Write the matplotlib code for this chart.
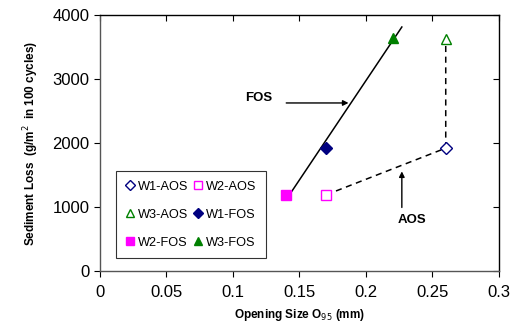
import numpy as np
import matplotlib
matplotlib.use('Agg')
import matplotlib.pyplot as plt

plt.rcParams['font.family'] = ['Liberation Sans', 'DejaVu Sans']

# data
aos_x = [0.26, 0.17, 0.26]          # W1, W2, W3
aos_y = [1920, 1190, 3630]
fos_x = [0.17, 0.14, 0.22]
fos_y = [1920, 1190, 3640]
labels = ['W1', 'W2', 'W3']
colors = ['#000080', '#FF00FF', '#008000']
markers = ['D', 's', '^']

fig = plt.figure(figsize=(5.23, 3.31), dpi=100)
ax = fig.add_axes([0.191, 0.181, 0.763, 0.774])

# FOS trend line
k, b = np.polyfit(fos_x, fos_y, 1)
xl = np.array([0.14, 0.227])
ax.plot(xl, k * xl + b, color='black', lw=1.1, zorder=2)

# AOS dashed connection: W2 -> W1 -> W3
ax.plot([aos_x[1], aos_x[0], aos_x[2]], [aos_y[1], aos_y[0], aos_y[2]],
        color='black', lw=1.1, ls=(0, (4, 3)), zorder=2)

handles = {}
for i in range(3):
    ms = 6 if markers[i] == 'D' else 7
    h = ax.plot(aos_x[i], aos_y[i], ls='none', marker=markers[i], ms=ms,
                mfc='white', mec=colors[i], mew=1.0, zorder=3)[0]
    handles[f'{labels[i]}-AOS'] = h
    h = ax.plot(fos_x[i], fos_y[i], ls='none', marker=markers[i], ms=ms,
                mfc=colors[i], mec=colors[i], mew=1.0, zorder=3)[0]
    handles[f'{labels[i]}-FOS'] = h

# legend: rows W1-AOS/W2-AOS, W3-AOS/W1-FOS, W2-FOS/W3-FOS
order = ['W1-AOS', 'W3-AOS', 'W2-FOS', 'W2-AOS', 'W1-FOS', 'W3-FOS']
leg = ax.legend([handles[o] for o in order], order, ncol=2, loc='lower left',
                bbox_to_anchor=(0.025, 0.025), fontsize=9.2, frameon=True,
                fancybox=False, edgecolor='black', handlelength=0.7,
                handletextpad=0.25, columnspacing=0.4, labelspacing=1.25,
                borderpad=0.75, markerscale=0.9)
leg.get_frame().set_linewidth(0.8)

# annotations
ax.annotate('', xy=(0.189, 2625), xytext=(0.138, 2625),
            arrowprops=dict(arrowstyle='-|>', color='black', lw=1, mutation_scale=8))
ax.text(0.1195, 2700, 'FOS', fontsize=9.5, fontweight='bold', ha='center', va='center')
ax.annotate('', xy=(0.227, 1600), xytext=(0.227, 950),
            arrowprops=dict(arrowstyle='-|>', color='black', lw=1, mutation_scale=8))
ax.text(0.2345, 800, 'AOS', fontsize=9.5, fontweight='bold', ha='center', va='center')

ax.set_xlim(0, 0.3)
ax.set_ylim(0, 4000)
ax.set_xticks(np.arange(0, 0.31, 0.05))
ax.set_xticklabels(['0', '0.05', '0.1', '0.15', '0.2', '0.25', '0.3'])
ax.set_yticks(np.arange(0, 4001, 1000))
ax.tick_params(axis='both', labelsize=12, length=4, width=0.8, direction='out',
               top=True, right=True)
ax.xaxis.set_tick_params(which='major', pad=6)
for t in ax.xaxis.get_major_ticks():
    t.tick2line.set_marker(3)  # top ticks pointing down
for t in ax.yaxis.get_major_ticks():
    t.tick2line.set_marker(0)  # right ticks pointing left
for s in ['left', 'bottom']:
    ax.spines[s].set_color('#555555')
for s in ax.spines.values():
    s.set_linewidth(1.0)

ax.set_xlabel('Opening Size O$_{95}$ (mm)', fontsize=8.5, fontweight='bold', labelpad=5)
ax.set_ylabel('Sediment Loss  (g/m$^2$  in 100 cycles)', fontsize=8.5,
              fontweight='bold', labelpad=8)

fig.savefig('out.png', dpi=100)
